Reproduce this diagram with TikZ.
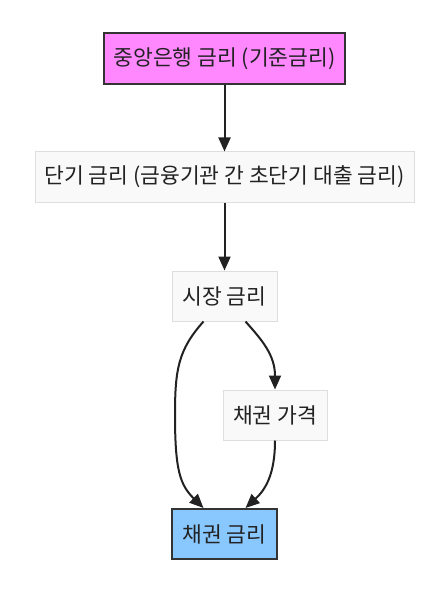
\documentclass[tikz,border=0pt]{standalone}
\usepackage{fontspec}
\setmainfont{Noto Sans CJK KR}
\usetikzlibrary{arrows.meta,calc}
\definecolor{pinkfill}{RGB}{255,136,255}
\definecolor{bluefill}{RGB}{136,200,255}
\definecolor{plainfill}{RGB}{249,249,249}
\definecolor{plainedge}{RGB}{222,222,222}
\definecolor{darkedge}{RGB}{51,51,51}
\definecolor{arrowcol}{RGB}{34,34,34}
\begin{document}
\begin{tikzpicture}[x=1pt,y=-1pt,
  base/.style={rectangle,inner sep=0pt,font=\fontsize{21.5}{24}\selectfont,text={rgb,255:red,34;green,34;blue,34}},
  plainbox/.style={base,fill=plainfill,draw=plainedge,line width=1pt},
  hotbox/.style={base,fill=pinkfill,draw=darkedge,line width=2pt},
  coolbox/.style={base,fill=bluefill,draw=darkedge,line width=2pt},
  link/.style={draw=arrowcol,line width=2pt,-{Triangle[length=14pt,width=12pt]}}]
\useasboundingbox (0,0) rectangle (442,596);
\fill[white] (0,0) rectangle (442,596);
\node[hotbox,minimum width=241pt,minimum height=51pt] (n1) at (224.5,58.5) {중앙은행 금리 (기준금리)};
\node[plainbox,minimum width=379pt,minimum height=50pt] (n2) at (224.5,177) {단기 금리 (금융기관 간 초단기 대출 금리)};
\node[plainbox,minimum width=105pt,minimum height=50pt] (n3) at (224.5,296) {시장 금리};
\node[plainbox,minimum width=104pt,minimum height=50pt] (n4) at (275,415) {채권 가격};
\node[coolbox,minimum width=105pt,minimum height=50pt] (n5) at (224.5,534) {채권 금리};
\draw[link] (n1.south) -- (n2.north);
\draw[link] (n2.south) -- (n3.north);
\coordinate (a1) at ($(n3.south)+(-21,0)$);
\coordinate (a2) at ($(n5.north)+(-21,0)$);
\coordinate (b1) at ($(n3.south)+(21,0)$);
\coordinate (b2) at ($(n5.north)+(21,0)$);
\draw[link] (a1) .. controls (178,350) and (175,370) .. (175,415) .. controls (175,470) and (180,485) .. (a2);
\draw[link] (b1) .. controls (262,340) and (275,355) .. (n4.north);
\draw[link] (n4.south) .. controls (275,475) and (265,490) .. (b2);
\end{tikzpicture}
\end{document}
